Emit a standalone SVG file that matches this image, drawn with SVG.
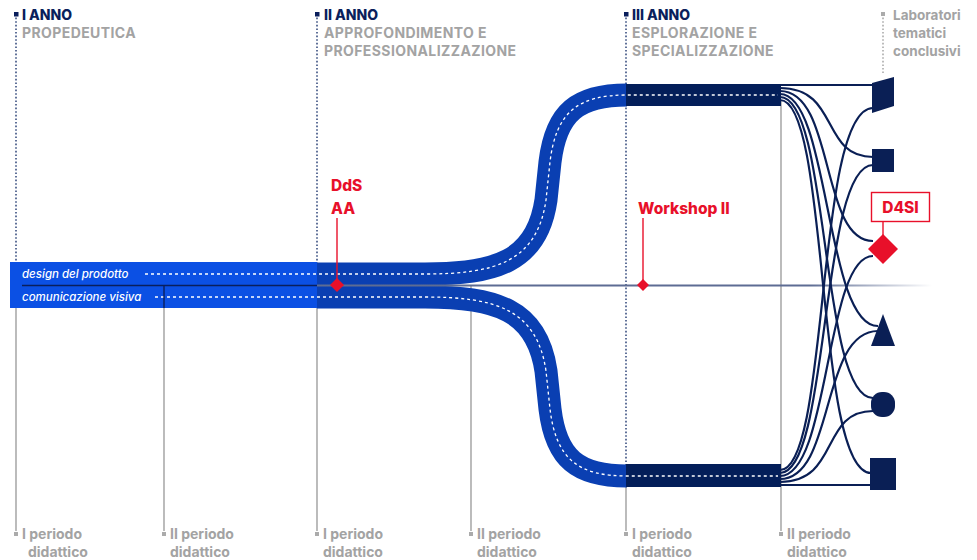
<svg xmlns="http://www.w3.org/2000/svg" width="977" height="560" viewBox="0 0 977 560">
<defs>
<style>
.hd{font-family:Inter,"Liberation Sans",sans-serif;font-weight:800;font-size:14px;fill:#0a1f5c}
.sub{font-family:Inter,"Liberation Sans",sans-serif;font-weight:700;font-size:14px;fill:#a3a3a3;letter-spacing:0.4px}
.lab{font-family:Inter,"Liberation Sans",sans-serif;font-weight:700;font-size:13.5px;fill:#a3a3a3}
.per{font-family:Inter,"Liberation Sans",sans-serif;font-weight:700;font-size:14px;fill:#a3a3a3}
.red{font-family:Inter,"Liberation Sans",sans-serif;font-weight:800;font-size:15.5px;fill:#e8102a}
.it{font-family:Inter,"Liberation Sans",sans-serif;font-style:italic;font-weight:500;font-size:11.5px;fill:#ffffff}
.dot{stroke:#3a4f80;stroke-width:1.6;stroke-dasharray:1.6 2;fill:none}
.gr{stroke:#ababab;stroke-width:1.6;fill:none}
.dash{stroke:#ffffff;stroke-width:1.3;stroke-dasharray:3 3;fill:none}
.conn{stroke:#0a1f55;stroke-width:2.2;fill:none}
.shp{fill:#0a1f55}
</style>
<linearGradient id="axis" x1="0" y1="0" x2="1" y2="0">
<stop offset="0" stop-color="#5d6c93"/>
<stop offset="0.8" stop-color="#5d6c93"/>
<stop offset="1" stop-color="#5d6c93" stop-opacity="0"/>
</linearGradient>
</defs>

<g id="grid">
<line class="dot" x1="16" y1="14" x2="16" y2="262"/>
<line class="dot" x1="317" y1="14" x2="317" y2="308"/>
<line class="dot" x1="626" y1="14" x2="626" y2="470"/>
<line x1="883" y1="14" x2="883" y2="73" stroke="#ababab" stroke-width="1.6" stroke-dasharray="1.6 2"/>
<rect x="14" y="12" width="4.5" height="4.5" fill="#0a1f5c"/>
<rect x="315" y="12" width="4.5" height="4.5" fill="#0a1f5c"/>
<rect x="624" y="12" width="4.5" height="4.5" fill="#0a1f5c"/>
<rect x="881" y="12" width="4" height="4" fill="#ababab"/>
<line class="gr" x1="16" y1="306" x2="16" y2="531"/>
<line class="gr" x1="164" y1="306" x2="164" y2="531"/>
<line class="gr" x1="317" y1="306" x2="317" y2="531"/>
<line class="gr" x1="471" y1="285" x2="471" y2="531"/>
<line class="gr" x1="626" y1="486" x2="626" y2="531"/>
<line class="gr" x1="781" y1="100" x2="781" y2="531"/>
</g>

<g id="headers">
<text class="hd" x="22" y="20">I ANNO</text>
<text class="sub" x="22" y="38">PROPEDEUTICA</text>
<text class="hd" x="324" y="20">II ANNO</text>
<text class="sub" x="324" y="38">APPROFONDIMENTO E</text>
<text class="sub" x="324" y="56">PROFESSIONALIZZAZIONE</text>
<text class="hd" x="632" y="20">III ANNO</text>
<text class="sub" x="632" y="38">ESPLORAZIONE E</text>
<text class="sub" x="632" y="56">SPECIALIZZAZIONE</text>
<text class="lab" x="893" y="20">Laboratori</text>
<text class="lab" x="893" y="38">tematici</text>
<text class="lab" x="893" y="56">conclusivi</text>
</g>

<g id="bands">
<path d="M317,274 H425 C495,274 537,262 546,200 L550,162 C556,112 578,95 627,95" stroke="#0a3fb2" stroke-width="23" fill="none"/>
<path d="M317,297 H425 C495,297 537,309 546,371 L550,409 C556,459 578,476 627,476" stroke="#0a3fb2" stroke-width="23" fill="none"/>
<rect x="10" y="262" width="307" height="46" fill="#0b50e4"/>
<rect x="626" y="84" width="155" height="22" fill="#031e59"/>
<rect x="626" y="464" width="155" height="23" fill="#031e59"/>
<path class="dash" d="M145,274 H317 H425 C495,274 537,262 546,200 L550,162 C556,112 578,95 627,95 H778"/>
<path class="dash" d="M155,297 H317 H425 C495,297 537,309 546,371 L550,409 C556,459 578,476 627,476 H778"/>
<text class="it" x="22" y="278">design del prodotto</text>
<text class="it" x="22" y="301">comunicazione visiva</text>
<line x1="22" y1="285.5" x2="317" y2="285.5" stroke="#0a1f5c" stroke-width="1.6"/>
<line x1="164" y1="285.5" x2="164" y2="308" stroke="#0a1f5c" stroke-width="1.4"/>
</g>

<g id="axis">
<rect x="317" y="284.5" width="615" height="2" fill="url(#axis)"/>
</g>

<g id="connectors">
<path class="conn" d="M780,85 H872"/>
<path class="conn" d="M780,88 C840,88 820,157 873,157"/>
<path class="conn" d="M780,91 C835,91 820,241 873,241"/>
<path class="conn" d="M780,94 C830,94 825,326 878,326"/>
<path class="conn" d="M780,97 C830,97 820,398 873,398"/>
<path class="conn" d="M780,100 C830,100 815,473 871,473"/>
<path class="conn" d="M780,485 H871"/>
<path class="conn" d="M780,482 C840,482 820,411 873,411"/>
<path class="conn" d="M780,479 C835,479 820,331 878,331"/>
<path class="conn" d="M780,476 C830,476 825,256 873,256"/>
<path class="conn" d="M780,473 C830,473 820,165 873,165"/>
<path class="conn" d="M780,470 C830,470 815,108 873,108"/>
</g>

<g id="lab1"><polygon class="shp" points="872,83 894,77 894,106 872,113"/></g>
<g id="lab2"><rect class="shp" x="872" y="149" width="22" height="23"/></g>
<g id="lab3"><polygon points="883,234 898,249 883,264 868,249" fill="#e8102a"/></g>
<g id="lab4"><polygon class="shp" points="883,314 895,346 871,346"/></g>
<g id="lab5"><rect class="shp" x="871" y="392" width="24" height="25" rx="11"/></g>
<g id="lab6"><rect class="shp" x="870" y="458" width="26" height="32"/></g>

<g id="d4si">
<rect x="871.5" y="192.5" width="58" height="29" fill="#ffffff" stroke="#e8102a" stroke-width="1.4"/>
<text class="red" x="900.5" y="213" text-anchor="middle">D4SI</text>
<line x1="883" y1="222" x2="883" y2="235" stroke="#e8102a" stroke-width="1.4"/>
</g>

<g id="dds">
<text class="red" x="331" y="191">DdS</text>
<text class="red" x="331" y="214">AA</text>
<line x1="337" y1="218" x2="337" y2="285" stroke="#e8102a" stroke-width="1.4"/>
<polygon points="337,278 344,285 337,292 330,285" fill="#e8102a"/>
</g>

<g id="workshop">
<text class="red" x="638" y="214">Workshop II</text>
<line x1="643" y1="218" x2="643" y2="285" stroke="#e8102a" stroke-width="1.4"/>
<polygon points="643,279 649,285 643,291 637,285" fill="#e8102a"/>
</g>

<g id="periods">
<rect x="14" y="532" width="4" height="4" fill="#ababab"/>
<text class="per" x="22" y="539">I periodo</text><text class="per" x="28" y="557">didattico</text>
<rect x="162" y="532" width="4" height="4" fill="#ababab"/>
<text class="per" x="170" y="539">II periodo</text><text class="per" x="170" y="557">didattico</text>
<rect x="315" y="532" width="4" height="4" fill="#ababab"/>
<text class="per" x="323" y="539">I periodo</text><text class="per" x="323" y="557">didattico</text>
<rect x="469" y="532" width="4" height="4" fill="#ababab"/>
<text class="per" x="477" y="539">II periodo</text><text class="per" x="477" y="557">didattico</text>
<rect x="624" y="532" width="4" height="4" fill="#ababab"/>
<text class="per" x="632" y="539">I periodo</text><text class="per" x="632" y="557">didattico</text>
<rect x="779" y="532" width="4" height="4" fill="#ababab"/>
<text class="per" x="787" y="539">II periodo</text><text class="per" x="787" y="557">didattico</text>
</g>
</svg>
